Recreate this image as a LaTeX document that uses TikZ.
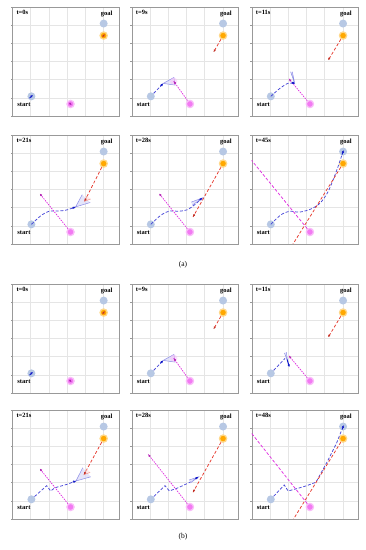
\documentclass[tikz,border=0pt]{standalone}
\usepackage{fontspec}
\setmainfont{Liberation Serif}
\usetikzlibrary{arrows.meta,calc}
\definecolor{goalblue}{HTML}{B7C8E4}
\definecolor{obsorange}{HTML}{FFA800}
\definecolor{obshalo}{HTML}{FFD88A}
\definecolor{magfill}{HTML}{F27AF2}
\definecolor{maghalo}{HTML}{F9BDF9}
\definecolor{pathblue}{HTML}{4848D8}
\definecolor{robotblue}{HTML}{1018C8}
\definecolor{magline}{HTML}{E030E0}
\definecolor{redline}{HTML}{E63A2E}
\definecolor{fovline}{HTML}{8C8CE6}
\definecolor{fovfill}{HTML}{DADAF8}
\tikzset{
 gridline/.style={draw=black!10, line width=0.3pt},
 frameline/.style={draw=black!40, line width=0.35pt},
 goalc/.style={circle, fill=goalblue, minimum size=8pt, inner sep=0pt},
 obsc/.style={circle, fill=obsorange, draw=obshalo, line width=1.3pt, minimum size=7.2pt, inner sep=0pt},
 magc/.style={circle, fill=magfill, draw=maghalo, line width=1.3pt, minimum size=7.2pt, inner sep=0pt},
 bpath/.style={draw=pathblue, line width=0.75pt, dash pattern=on 3pt off 1.8pt},
 mpath/.style={draw=magline, line width=0.75pt, dash pattern=on 1.4pt off 1.1pt},
 mdash/.style={draw=magline, line width=0.75pt, dash pattern=on 3pt off 1.8pt},
 rpath/.style={draw=redline, line width=0.75pt, dash pattern=on 3pt off 2pt},
 robot/.style={-{Latex[length=2.6pt,width=2.6pt]}, draw=robotblue, line width=1pt},
 magent/.style={-{Latex[length=2.4pt,width=2.4pt]}, draw=magline!80!black, line width=0.8pt},
 ragent/.style={-{Latex[length=2.4pt,width=2.4pt]}, draw=redline!85!black, line width=0.8pt},
 fovl/.style={draw=fovline, line width=0.5pt},
 fovf/.style={fill=fovfill, fill opacity=0.7},
 rfovl/.style={draw=redline!55, line width=0.5pt},
 rfovf/.style={fill=red!12, fill opacity=0.7},
 lbl/.style={font=\bfseries\fontsize{6.5}{7}\selectfont, inner sep=0pt},
 captext/.style={font=\fontsize{7.5}{8}\selectfont, inner sep=0pt},
}
\newcommand{\pbase}[1]{%
 \foreach \k in {1,...,5}{\draw[gridline] (\k,0) -- (\k,6); \draw[gridline] (0,\k) -- (5.85,\k);}
 \foreach \k in {0,...,5}{\draw[frameline] (\k,0) -- (\k,-0.08);}
 \foreach \k in {0,...,6}{\draw[frameline] (0,\k) -- (-0.08,\k);}
 \draw[frameline] (0,0) rectangle (5.85,6);
 \node[goalc] (goal) at (5.02,5.08) {};
 \node[obsc] (obs) at (5.02,4.42) {};
 \node[magc] (mag) at (3.2,0.66) {};
 \node[goalc] (start) at (1.05,1.08) {};
 \node[lbl] (goaltxt) at (5.18,5.6) {goal};
 \node[lbl] (starttxt) at (0.64,0.64) {start};
 \node[lbl, anchor=west] (ttxt) at (0.22,5.7) {#1};
}
% t=0 panel contents
\newcommand{\pzero}{%
 \draw[robot] ($(start)+(-0.1,-0.1)$) -- ($(start)+(0.08,0.08)$);
 \draw[ragent] ($(obs)+(-0.06,-0.08)$) -- ($(obs)+(0.06,0.08)$);
 \draw[magent] ($(mag)+(-0.06,0.06)$) -- ($(mag)+(0.06,-0.06)$);
}
% t=9 panel contents
\newcommand{\pnine}{%
 \coordinate (rob) at (1.73,1.79);
 \draw[bpath] (start) -- (rob);
 \fill[fovf] (rob) -- (2.32,2.12) -- (2.38,1.70) -- cycle;
 \draw[fovl] (2.32,2.12) -- (rob) -- (2.38,1.70) -- cycle;
 \coordinate (ma) at (2.31,1.91);
 \fill[maghalo, opacity=0.5] (ma) circle (0.2);
 \draw[mpath] (mag) -- (ma);
 \draw[magent] ($(ma)!3pt!(mag)$) -- (ma);
 \draw[robot] ($(rob)!4pt!(start)$) -- (rob);
 \coordinate (ra) at (4.5,3.51);
 \draw[rpath] (obs) -- (ra);
 \draw[ragent] ($(ra)!3pt!(obs)$) -- (ra);
}
\begin{document}
\begin{tikzpicture}[x=1pt,y=-1pt]
\useasboundingbox (0,0) rectangle (366,550);
% ===== (a) row 1 =====
\begin{scope}[shift={(12.3pt,-116pt)}, x=18.2pt, y=18.2pt]
 \pbase{t=0s}\pzero
\end{scope}
\begin{scope}[shift={(131.7pt,-116pt)}, x=18.2pt, y=18.2pt]
 \pbase{t=9s}\pnine
\end{scope}
\begin{scope}[shift={(251.7pt,-116pt)}, x=18.2pt, y=18.2pt]
 \pbase{t=11s}
 \coordinate (rob) at (2.37,1.76);
 \draw[bpath] plot[smooth] coordinates {(1.05,1.08) (1.55,1.52) (2.01,1.8) (2.37,1.76)};
 \fill[fovf] (rob) -- (2.14,2.43) -- (2.23,2.43) -- cycle;
 \draw[fovl] (2.14,2.43) -- (rob) -- (2.23,2.43);
 \coordinate (ma) at (2.05,2.04);
 \draw[mpath] (mag) -- (ma);
 \draw[magent] ($(ma)!3pt!(mag)$) -- (ma);
 \draw[robot] (2.2,1.86) -- (rob);
 \coordinate (ra) at (4.2,3.06);
 \draw[rpath] (obs) -- (ra);
 \draw[ragent] ($(ra)!3pt!(obs)$) -- (ra);
\end{scope}
% ===== (a) row 2 =====
\begin{scope}[shift={(12.3pt,-244pt)}, x=18.2pt, y=18.2pt]
 \pbase{t=21s}
 \coordinate (rob) at (3.48,2.04);
 \draw[bpath] plot[smooth] coordinates {(1.05,1.08) (1.61,1.59) (2.07,1.81) (2.53,1.81) (2.99,1.87) (3.48,2.04)};
 \fill[fovf] (rob) -- (3.84,2.71) -- (4.28,2.28) -- cycle;
 \draw[fovl] (3.84,2.71) -- (rob) -- (4.28,2.28);
 \draw[robot] (3.3,1.97) -- (rob);
 \coordinate (ma) at (1.51,2.77);
 \draw[mpath] (mag) -- (ma);
 \draw[magent] ($(ma)!3pt!(mag)$) -- (ma);
 \coordinate (ra) at (3.97,2.35);
 \draw[rpath] (obs) -- (ra);
 \fill[rfovf] (ra) -- (4.12,2.65) -- (4.3,2.47) -- cycle;
 \draw[rfovl] (4.12,2.65) -- (ra) -- (4.3,2.47);
 \draw[ragent] ($(ra)!3pt!(obs)$) -- (ra);
\end{scope}
\begin{scope}[shift={(131.7pt,-244pt)}, x=18.2pt, y=18.2pt]
 \pbase{t=28s}
 \coordinate (rob) at (3.88,2.53);
 \draw[bpath] plot[smooth] coordinates {(1.05,1.08) (1.61,1.59) (2.07,1.81) (2.6,1.8) (3.05,1.88) (3.45,2.15) (3.88,2.53)};
 \fill[fovf] (rob) -- (3.27,2.3) -- (3.33,2.13) -- cycle;
 \draw[fovl] (3.27,2.3) -- (rob) -- (3.33,2.13);
 \draw[robot] (3.72,2.4) -- (rob);
 \coordinate (ma) at (1.51,2.77);
 \draw[mpath] (mag) -- (ma);
 \draw[magent] ($(ma)!3pt!(mag)$) -- (ma);
 \coordinate (ra) at (3.37,1.49);
 \draw[rpath] (obs) -- (ra);
 \draw[ragent] ($(ra)!3pt!(obs)$) -- (ra);
\end{scope}
\begin{scope}[shift={(251.7pt,-244pt)}, x=18.2pt, y=18.2pt]
 \pbase{t=45s}
 \draw[bpath] plot[smooth] coordinates {(1.05,1.08) (1.6,1.6) (2.1,1.8) (2.6,1.75) (3.2,1.9) (3.73,2.22) (4.19,2.86) (4.64,3.96) (5.02,5.08)};
 \draw[robot] (4.97,4.92) -- (5.05,5.16);
 \coordinate (me) at (0,4.59);
 \draw[mdash] (mag) -- (me);
 \coordinate (re) at (2.27,0);
 \draw[rpath] (obs) -- (re);
\end{scope}
\node[captext] (capa) at (183,265) {(a)};
% ===== (b) row 3 =====
\begin{scope}[shift={(12.3pt,-393pt)}, x=18.2pt, y=18.2pt]
 \pbase{t=0s}\pzero
\end{scope}
\begin{scope}[shift={(131.7pt,-393pt)}, x=18.2pt, y=18.2pt]
 \pbase{t=9s}\pnine
\end{scope}
\begin{scope}[shift={(251.7pt,-393pt)}, x=18.2pt, y=18.2pt]
 \pbase{t=11s}
 \coordinate (bend) at (1.83,1.9);
 \draw[bpath] (start) -- (bend);
 \fill[fovf] (1.98,1.72) -- (1.8,2.2) -- (1.9,2.24) -- cycle;
 \draw[fovl] (1.8,2.2) -- (1.98,1.72) -- (1.9,2.24);
 \coordinate (rob) at (2.07,1.42);
 \draw[robot] (1.95,1.84) -- (rob);
 \coordinate (ma) at (2.05,2.04);
 \draw[mpath] (mag) -- (ma);
 \draw[magent] ($(ma)!3pt!(mag)$) -- (ma);
 \coordinate (ra) at (4.2,3.06);
 \draw[rpath] (obs) -- (ra);
 \draw[ragent] ($(ra)!3pt!(obs)$) -- (ra);
\end{scope}
% ===== (b) row 4 =====
\begin{scope}[shift={(12.3pt,-519pt)}, x=18.2pt, y=18.2pt]
 \pbase{t=21s}
 \coordinate (rob) at (3.5,2.09);
 \draw[bpath] (start) -- (1.89,1.83) -- (2.11,1.54) -- (2.35,1.72) -- (2.99,1.9) -- (rob);
 \fill[fovf] (rob) -- (3.87,2.82) -- (4.31,2.32) -- cycle;
 \draw[fovl] (3.87,2.82) -- (rob) -- (4.31,2.32);
 \draw[robot] (3.32,2.03) -- (rob);
 \coordinate (ma) at (1.51,2.77);
 \draw[mpath] (mag) -- (ma);
 \draw[magent] ($(ma)!3pt!(mag)$) -- (ma);
 \coordinate (ra) at (3.94,2.44);
 \draw[rpath] (obs) -- (ra);
 \fill[rfovf] (ra) -- (4.1,2.74) -- (4.28,2.56) -- cycle;
 \draw[rfovl] (4.1,2.74) -- (ra) -- (4.28,2.56);
 \draw[ragent] ($(ra)!3pt!(obs)$) -- (ra);
\end{scope}
\begin{scope}[shift={(131.7pt,-519pt)}, x=18.2pt, y=18.2pt]
 \pbase{t=28s}
 \coordinate (rob) at (3.66,2.31);
 \draw[bpath] (start) -- (1.83,1.83) -- (2.07,1.54) -- (2.56,1.72) -- (3.2,2.02) -- (rob);
 \fill[fovf] (rob) -- (3.15,2.14) -- (3.22,1.98) -- cycle;
 \draw[fovl] (3.15,2.14) -- (rob) -- (3.22,1.98);
 \draw[robot] (3.5,2.21) -- (rob);
 \coordinate (ma) at (0.91,3.55);
 \draw[mpath] (mag) -- (ma);
 \draw[magent] ($(ma)!3pt!(mag)$) -- (ma);
 \coordinate (ra) at (3.37,1.47);
 \draw[rpath] (obs) -- (ra);
 \draw[ragent] ($(ra)!3pt!(obs)$) -- (ra);
\end{scope}
\begin{scope}[shift={(251.7pt,-519pt)}, x=18.2pt, y=18.2pt]
 \pbase{t=48s}
 \draw[bpath] (start) -- (1.79,1.87) -- (2.0,1.54) -- (2.56,1.69) -- (3.02,1.83) -- (3.53,2.02) -- (3.75,2.42) -- (4.2,3.24) -- (4.66,4.16) -- (goal);
 \draw[robot] (4.97,4.92) -- (5.05,5.16);
 \coordinate (me) at (0,4.7);
 \draw[mdash] (mag) -- (me);
 \coordinate (re) at (2.3,0);
 \draw[rpath] (obs) -- (re);
\end{scope}
\node[captext] (capb) at (183,537) {(b)};
\end{tikzpicture}
\end{document}
